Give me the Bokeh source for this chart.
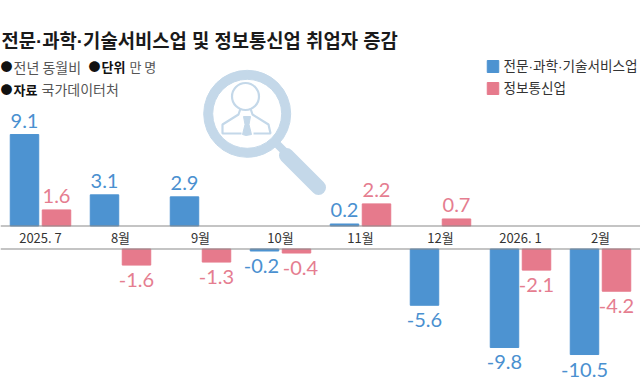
from bokeh.plotting import figure
from bokeh.embed import file_html
from bokeh.resources import INLINE
from bokeh.models import ColumnDataSource, Range1d, Label, Span
from bokeh.transform import dodge
from bokeh.core.properties import value

months = ["2025. 7", "8월", "9월", "10월", "11월", "12월", "2026. 1", "2월"]
science = [9.1, 3.1, 2.9, -0.2, 0.2, -5.6, -9.8, -10.5]
info = [1.6, -1.6, -1.3, -0.4, 2.2, 0.7, -2.1, -4.2]
title_text = "전문·과학·기술서비스업 및 정보통신업 취업자 증감"
legend_names = ["전문·과학·기술서비스업", "정보통신업"]

BLUE, PINK = "#4d93d1", "#e67a8c"
BLUE_T, PINK_T = "#4a90d0", "#e57d90"
ICON = "#c4d8e9"
KR = "Noto Sans CJK KR"
KR_DOT = "Liberation Sans, Noto Sans CJK KR"
W, H = 640, 388
UP0, LOW0, PX = 225.5, 248.5, 10.05

p = figure(width=W, height=H, output_backend="svg", toolbar_location=None,
           x_range=Range1d(-0.5, len(months) - 0.5),
           y_range=Range1d(-(H - UP0) / PX, UP0 / PX),
           min_border=0, outline_line_color=None)
p.styles = {"position": "absolute", "left": "0px", "top": "0px"}
p.grid.visible = False
p.yaxis.visible = False
p.extra_y_ranges = {"neg": Range1d(-(H - LOW0) / PX, LOW0 / PX), "py": Range1d(H, 0)}
p.extra_x_ranges = {"px": Range1d(0, W)}

ax = p.xaxis[0]
ax.fixed_location = 1.0
ax.ticker = list(range(len(months)))
ax.major_label_overrides = {i: m for i, m in enumerate(months)}
ax.axis_line_color = None
ax.major_tick_line_color = None
ax.minor_tick_line_color = None
ax.major_label_text_font = KR
ax.major_label_text_font_size = "13px"
ax.major_label_text_color = "#333333"
ax.major_label_standoff = 6

for rng in ("default", "neg"):
    p.add_layout(Span(location=0, dimension="width", y_range_name=rng,
                      line_color="#8a8a8a", line_width=1.2))

BAR_W, OFF = 0.356, 0.2
for vals, colr, tcol, off, nudge in ((science, BLUE, BLUE_T, -OFF, {3: -3}),
                                     (info, PINK, PINK_T, OFF, {3: 4})):
    pos = [(i, v) for i, v in enumerate(vals) if v > 0]
    neg = [(i, v) for i, v in enumerate(vals) if v < 0]
    for rows, rng, gap, in ((pos, "default", 14 / PX), (neg, "neg", -15 / PX)):
        src = ColumnDataSource(dict(x=[r[0] for r in rows], y=[r[1] for r in rows],
                                    ly=[r[1] + gap for r in rows],
                                    xo=[nudge.get(r[0], 0) for r in rows],
                                    t=[f"{r[1]:g}" for r in rows]))
        p.vbar(x=dodge("x", off), top="y", bottom=0, width=BAR_W,
               color=colr, y_range_name=rng, source=src)
        p.text(x=dodge("x", off), y="ly", text="t", source=src, x_offset="xo",
               y_range_name=rng, text_font=value("Lato"), text_font_size="20px",
               text_color=tcol, text_align="center", text_baseline="alphabetic")


def lab(x, y, text, size, color="#222222", style="normal", font=KR):
    p.add_layout(Label(x=x, y=H - y, x_units="screen", y_units="screen", text=text,
                       text_font=font, text_font_size=f"{size}px", text_color=color,
                       text_font_style=style, text_baseline="middle"))


lab(1, 41, title_text, 18.8, "#1a1a1a", "bold", KR_DOT)
lab(0, 66, "●", 12, "#111111")
lab(13, 66, "전년 동월비", 14, "#555555")
lab(88, 66, "●", 12, "#111111")
lab(101, 66, "단위", 13, "#111111", "bold")
lab(129, 66, "만 명", 13, "#555555")
lab(0, 88.5, "●", 12, "#111111")
lab(13, 88.5, "자료", 13, "#111111", "bold")
lab(41, 88.5, "국가데이터처", 14, "#555555")

# legend
for yy, c, name in ((66, BLUE, legend_names[0]), (88, PINK, legend_names[1])):
    p.rect(x=[492.5], y=[yy], width=11.5, height=12, color=c, x_range_name="px", y_range_name="py")
    lab(503, yy, name, 13.6, "#333333", "normal", KR_DOT)

# magnifier icon
kw = dict(x_range_name="px", y_range_name="py")
p.annulus(x=[246.7], y=[113.3], inner_radius=34.5, outer_radius=43.5, color=ICON, **kw)
p.line([276, 290], [143, 157], line_width=8, color=ICON, **kw)
p.line([286, 318], [155, 187], line_width=15, color=ICON, line_cap="round", **kw)
p.circle(x=[245], y=[96], radius=13.5, fill_color=None, line_color=ICON, line_width=2.2, **kw)
p.line([240, 238, 222, 222, 241], [108, 114, 124, 133, 133], line_color=ICON, line_width=2.2, **kw)
p.line([250, 252, 268, 270, 253], [108, 114, 124, 133, 133], line_color=ICON, line_width=2.2, **kw)
p.patch([243, 250, 248.5, 251, 245.5, 242, 244.5], [116, 116, 124, 134, 135, 134, 124], color=ICON, **kw)

open("out.html", "w").write(file_html(p, INLINE))
